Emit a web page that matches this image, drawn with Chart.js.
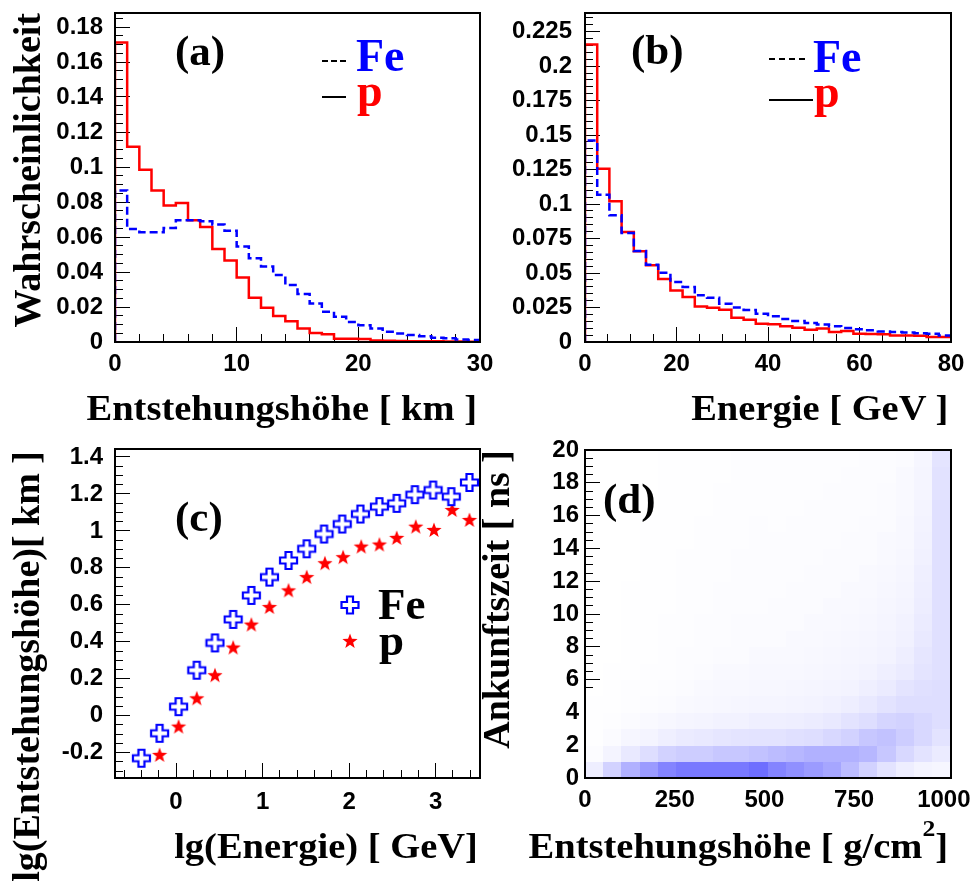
<!DOCTYPE html>
<html lang="de">
<head>
<meta charset="utf-8">
<title>Entstehungshöhe, Energie und Ankunftszeit</title>
<script src="https://cdn.jsdelivr.net/npm/chart.js@4.4.1/dist/chart.umd.min.js"></script>
<style>
html,body{margin:0;padding:0;background:#fff;overflow:hidden;width:972px;height:887px;}
#wrap{position:relative;width:972px;height:887px;overflow:hidden;background:#fff;}
#wrap canvas{position:absolute;}
.t{position:absolute;white-space:nowrap;font-family:"Liberation Serif","Times New Roman",serif;font-weight:bold;line-height:1;color:#000;}
.xt{font-size:36px;transform:scaleX(1.07);transform-origin:right top;}
.yt{font-size:38px;width:600px;text-align:right;transform:rotate(-90deg);transform-origin:left top;}
.pl{font-size:43px;}
.lg{font-size:46px;}
.sup{position:relative;top:-22px;font-size:24px;}
#ov{position:absolute;left:0;top:0;}
</style>
</head>
<body>
<div id="wrap">
<canvas id="chartA" width="500" height="440" style="left:0px;top:0px"></canvas>
<canvas id="chartB" width="486" height="440" style="left:486px;top:0px"></canvas>
<canvas id="chartC" width="500" height="447" style="left:0px;top:440px"></canvas>
<canvas id="chartD" width="486" height="447" style="left:486px;top:440px"></canvas>

<svg id="ov" width="972" height="887" xmlns="http://www.w3.org/2000/svg">
  <line x1="322" y1="61" x2="346" y2="61" stroke="#000" stroke-width="2" stroke-dasharray="6,3"/>
  <line x1="322" y1="97" x2="346" y2="97" stroke="#000" stroke-width="2"/>
  <line x1="769" y1="59" x2="805" y2="59" stroke="#000" stroke-width="2" stroke-dasharray="6,4"/>
  <line x1="769" y1="100" x2="813" y2="100" stroke="#000" stroke-width="2"/>
  <path d="M347,596.5 L353,596.5 L353,602 L358.5,602 L358.5,608 L353,608 L353,613.5 L347,613.5 L347,608 L341.5,608 L341.5,602 L347,602 Z" fill="#fff" stroke="#0000ff" stroke-width="2.2"/>
  <polygon points="350,633.5 351.94,638.83 357.61,639.03 353.14,642.52 354.70,647.97 350,644.8 345.30,647.97 346.86,642.52 342.39,639.03 348.06,638.83" fill="#ff0000"/>
</svg>

<!-- axis titles -->
<div class="t xt" style="right:495px;top:390px;">Entstehungshöhe [ km ]</div>
<div class="t xt" style="right:24px;top:390px;">Energie [ GeV ]</div>
<div class="t xt" style="right:494px;top:828px;">lg(Energie) [ GeV]</div>
<div class="t xt" style="right:24px;top:828px;">Entstehungshöhe [ g/cm<span class="sup">2</span>]</div>
<div class="t yt" style="left:8px;top:613px;">Wahrscheinlichkeit</div>
<div class="t yt" style="left:7px;top:1051px;">lg(Entstehungshöhe)[ km ]</div>
<div class="t yt" style="left:477px;top:1050px;">Ankunftszeit [ ns ]</div>

<!-- panel labels -->
<div class="t pl" style="left:175px;top:29px;">(a)</div>
<div class="t pl" style="left:631px;top:28px;">(b)</div>
<div class="t pl" style="left:175px;top:495px;">(c)</div>
<div class="t pl" style="left:603px;top:477px;">(d)</div>

<!-- legends -->
<div class="t lg" style="left:356px;top:33px;color:#0000ff;">Fe</div>
<div class="t lg" style="left:357px;top:68px;color:#ff0000;">p</div>
<div class="t lg" style="left:813px;top:34px;color:#0000ff;">Fe</div>
<div class="t lg" style="left:814px;top:69px;color:#ff0000;">p</div>
<div class="t" style="left:378px;top:582px;font-size:45px;">Fe</div>
<div class="t" style="left:379px;top:618px;font-size:45px;">p</div>
</div>

<script>
// ---------- Panel (a): production height distribution ----------
const heightEdgesKm = [0,1,2,3,4,5,6,7,8,9,10,11,12,13,14,15,16,17,18,19,20,21,22,23,24,25,26,27,28,29,30];
const heightProbFe = [0.0866,0.0646,0.0627,0.0627,0.0652,0.0696,0.0696,0.069,0.0671,0.0636,
                      0.0546,0.0479,0.0431,0.0383,0.0326,0.0274,0.022,0.0173,0.0144,0.0115,
                      0.0096,0.0077,0.0058,0.0048,0.004,0.0033,0.0025,0.0021,0.0015,0.0012];
const heightProbP  = [0.1712,0.1116,0.0985,0.0866,0.078,0.0795,0.0696,0.0657,0.0531,0.0466,
                      0.0368,0.0253,0.0196,0.0148,0.0119,0.0077,0.0052,0.0044,0.0019,0.0019,
                      0.0017,0.0008,0.0007,0.0006,0.0005,0.0004,0.0004,0.0003,0.0003,0.0002];
const heightTicksKm = [0,10,20,30];
const heightProbTicks = [0,0.02,0.04,0.06,0.08,0.1,0.12,0.14,0.16,0.18];

// ---------- Panel (b): energy distribution ----------
const energyEdgesGeV = [0,2.67,5.33,8,10.67,13.33,16,18.67,21.33,24,26.67,29.33,32,34.67,37.33,
                        40,42.67,45.33,48,50.67,53.33,56,58.67,61.33,64,66.67,69.33,72,74.67,77.33,80];
const energyProbFe = [0.146,0.1068,0.0918,0.079,0.066,0.056,0.0502,0.0435,0.0399,0.0338,
                      0.0321,0.0278,0.0251,0.0232,0.0205,0.0186,0.0167,0.0152,0.0138,0.0126,
                      0.0114,0.0101,0.0092,0.0085,0.0077,0.0072,0.0068,0.0063,0.006,0.0048];
const energyProbP  = [0.2157,0.1256,0.102,0.0797,0.0657,0.0556,0.0457,0.0374,0.0326,0.0258,
                      0.0249,0.0234,0.0176,0.0162,0.0133,0.0128,0.0114,0.0104,0.0089,0.0097,
                      0.0072,0.008,0.006,0.0058,0.0056,0.0048,0.0048,0.0046,0.0036,0.0036];
const energyTicksGeV = [0,20,40,60,80];
const energyProbTicks = [0,0.025,0.05,0.075,0.1,0.125,0.15,0.175,0.2,0.225];

// ---------- Panel (c): lg(height) vs lg(energy) ----------
const lgEnergyFe = [-0.40,-0.19,0.03,0.24,0.45,0.66,0.87,1.08,1.30,1.51,1.71,1.92,2.13,2.35,2.55,2.76,2.97,3.18,3.39];
const lgHeightFe = [-0.23,-0.095,0.049,0.246,0.394,0.521,0.651,0.75,0.84,0.903,0.983,1.037,1.091,1.131,1.149,1.196,1.221,1.185,1.262];
const lgEnergyP  = [-0.19,0.03,0.24,0.45,0.66,0.87,1.08,1.30,1.51,1.72,1.93,2.14,2.35,2.55,2.77,2.98,3.19,3.39];
const lgHeightP  = [-0.212,-0.059,0.094,0.219,0.369,0.493,0.588,0.678,0.75,0.825,0.858,0.915,0.926,0.962,1.023,1.005,1.113,1.059];
const lgEnergyTicks = [0,1,2,3];
const lgHeightTicks = [-0.2,0,0.2,0.4,0.6,0.8,1,1.2,1.4];

// ---------- Panel (d): arrival time vs production depth (hit density per cell) ----------
const depthBinCenters = [25.5,76.5,127.5,178.5,229.5,280.5,331.5,382.5,433.5,484.5,535.5,586.5,637.5,688.5,739.5,790.5,841.5,892.5,943.5,994.5];
const timeBinCenters  = [0.5,1.5,2.5,3.5,4.5,5.5,6.5,7.5,8.5,9.5,10.5,11.5,12.5,13.5,14.5,15.5,16.5,17.5,18.5,19.5];
const hitCounts = [
  [15,40,70,90,110,120,120,120,120,130,110,100,90,80,60,40,25,15,10,8],
  [3,10,20,30,40,45,45,50,50,55,60,65,70,70,70,65,50,35,25,18],
  [1,4,8,10,14,18,20,22,24,25,25,28,30,35,40,50,55,45,35,25],
  [1,2,4,5,7,9,10,12,12,14,14,15,17,20,25,30,38,40,35,30],
  [1,1,2,3,4,5,6,7,8,9,9,10,11,13,15,20,25,30,30,30],
  [0,1,2,2,3,4,5,6,6,7,7,8,9,10,11,14,18,24,28,30],
  [0,1,1,2,2,3,4,5,5,6,6,6,7,8,9,11,14,18,24,28],
  [0,0,1,1,2,3,3,4,4,5,5,5,6,7,8,9,11,15,22,28],
  [0,0,1,1,2,2,3,3,4,4,4,5,5,6,7,8,10,13,20,28],
  [0,0,1,1,2,2,3,3,4,4,4,4,5,5,6,7,9,12,18,28],
  [0,0,1,1,1,2,2,3,3,3,4,4,4,5,5,6,8,10,16,28],
  [0,0,1,1,1,2,2,3,3,3,3,4,4,4,5,5,7,9,15,28],
  [0,0,0,1,1,2,2,2,3,3,3,3,4,4,4,5,6,8,14,28],
  [0,0,0,1,1,2,2,2,3,3,3,3,3,4,4,4,5,7,13,28],
  [0,0,0,1,1,1,2,2,2,3,3,3,3,3,4,4,5,6,12,28],
  [0,0,0,1,1,1,2,2,2,3,2,3,3,3,3,4,4,6,11,28],
  [0,0,0,0,1,1,1,2,2,2,2,2,3,3,3,3,4,5,10,28],
  [0,0,0,0,1,1,1,2,2,2,2,2,2,3,3,3,4,5,9,26],
  [0,0,0,0,1,1,1,1,2,2,2,2,2,2,3,3,3,5,9,26],
  [0,0,0,0,1,1,1,1,2,2,2,2,2,2,2,3,3,4,8,24]
];
const depthTicks = [0,250,500,750,1000];
const timeTicks = [0,2,4,6,8,10,12,14,16,18,20];

// ---------- helpers ----------
Chart.defaults.font.family = "'Liberation Sans', Arial, sans-serif";
const tickFont = {family: "'Liberation Sans', Arial, sans-serif", weight: 'bold', size: 24};
const fmt = v => String(Math.round(v * 1000) / 1000);

function histPoints(edges, vals) {
  const pts = [{x: edges[0], y: 0}];
  vals.forEach((v, i) => pts.push({x: edges[i], y: v}));
  pts.push({x: edges[vals.length], y: vals[vals.length - 1]});
  return pts;
}
// unlabeled minor tick positions on a regular step
function minorTicks(min, max, step) {
  const out = [];
  for (let k = Math.ceil(min / step - 1e-9); k * step <= max + 1e-9; k++) {
    out.push({value: Math.round(k * step * 1e6) / 1e6});
  }
  return out;
}

function axes(o) {
  const zeroPad = s => { s.paddingLeft = 0; s.paddingRight = 0; s.paddingTop = 0; s.paddingBottom = 0; };
  return {
    x: {type: 'linear', axis: 'x', position: 'bottom', min: o.xmin, max: o.xmax, z: 1,
        afterBuildTicks: s => { s.ticks = o.xTicks.map(v => ({value: v})); },
        afterFit: s => { s.height = o.xH; zeroPad(s); },
        border: {display: false},
        grid: {display: true, drawOnChartArea: false, drawTicks: true, tickLength: -15, tickColor: '#000', tickWidth: 1},
        ticks: {autoSkip: false, maxRotation: 0, minRotation: 0,
                padding: o.xPad, color: '#000', font: tickFont, callback: fmt}},
    xMinor: {type: 'linear', axis: 'x', position: {y: o.ymin}, min: o.xmin, max: o.xmax, z: 1,
        afterBuildTicks: s => { s.ticks = minorTicks(o.xmin, o.xmax, o.xMinor); },
        afterFit: zeroPad,
        border: {display: false},
        grid: {display: true, drawOnChartArea: false, drawTicks: true, tickLength: -8, tickColor: '#000', tickWidth: 1},
        ticks: {display: false, autoSkip: false}},
    y: {type: 'linear', axis: 'y', position: 'left', min: o.ymin, max: o.ymax, z: 1,
        afterBuildTicks: s => { s.ticks = o.yTicks.map(v => ({value: v})); },
        afterFit: s => { s.width = o.yW; zeroPad(s); },
        border: {display: false},
        grid: {display: true, drawOnChartArea: false, drawTicks: true, tickLength: -15, tickColor: '#000', tickWidth: 1},
        ticks: {autoSkip: false, padding: o.yPad, color: '#000', font: tickFont, callback: fmt}},
    yMinor: {type: 'linear', axis: 'y', position: {x: o.xmin}, min: o.ymin, max: o.ymax, z: 1,
        afterBuildTicks: s => { s.ticks = minorTicks(o.ymin, o.ymax, o.yMinor); },
        afterFit: zeroPad,
        border: {display: false},
        grid: {display: true, drawOnChartArea: false, drawTicks: true, tickLength: -8, tickColor: '#000', tickWidth: 1},
        ticks: {display: false, autoSkip: false}}
  };
}

function baseOptions(pad, scales) {
  return {
    responsive: false, animation: false, events: [],
    layout: {padding: pad},
    plugins: {legend: {display: false}, tooltip: {enabled: false}},
    scales
  };
}

const framePlugin = {
  id: 'frame',
  afterDraw(chart) {
    const {ctx, chartArea: a} = chart;
    ctx.save();
    ctx.strokeStyle = '#000';
    ctx.lineWidth = 2;
    ctx.strokeRect(a.left, a.top, a.right - a.left, a.bottom - a.top);
    ctx.restore();
  }
};

function makeCross() {
  const c = document.createElement('canvas'); c.width = 21; c.height = 21;
  const g = c.getContext('2d'); g.translate(10.5, 10.5);
  const a = 3, b = 8.5;
  g.beginPath();
  g.moveTo(-a,-b); g.lineTo(a,-b); g.lineTo(a,-a); g.lineTo(b,-a); g.lineTo(b,a); g.lineTo(a,a);
  g.lineTo(a,b); g.lineTo(-a,b); g.lineTo(-a,a); g.lineTo(-b,a); g.lineTo(-b,-a); g.lineTo(-a,-a);
  g.closePath();
  g.fillStyle = '#fff'; g.fill();
  g.strokeStyle = '#0000ff'; g.lineWidth = 2.2; g.stroke();
  return c;
}
function makeStar() {
  const c = document.createElement('canvas'); c.width = 18; c.height = 18;
  const g = c.getContext('2d'); g.translate(9, 9.5);
  g.beginPath();
  for (let k = 0; k < 10; k++) {
    const r = k % 2 ? 3.3 : 8;
    const t = -Math.PI / 2 + k * Math.PI / 5;
    g.lineTo(r * Math.cos(t), r * Math.sin(t));
  }
  g.closePath(); g.fillStyle = '#ff0000'; g.fill();
  return c;
}
const cellCache = {};
function cellImage(n) {
  if (cellCache[n]) return cellCache[n];
  const c = document.createElement('canvas'); c.width = 19; c.height = 17;
  const g = c.getContext('2d');
  const v = Math.round(255 - 195 * Math.min(1, n / 175));
  g.fillStyle = 'rgb(' + v + ',' + v + ',255)';
  g.fillRect(0, 0, 19, 17);
  cellCache[n] = c;
  return c;
}

// ---------- Chart (a) ----------
new Chart(document.getElementById('chartA'), {
  type: 'line',
  data: {datasets: [
    {label: 'Fe', data: histPoints(heightEdgesKm, heightProbFe), xAxisID: 'x', yAxisID: 'y',
     borderColor: '#0000ff', borderWidth: 2.5, borderDash: [8, 4], stepped: true, pointRadius: 0, fill: false},
    {label: 'p', data: histPoints(heightEdgesKm, heightProbP), xAxisID: 'x', yAxisID: 'y',
     borderColor: '#ff0000', borderWidth: 2.5, stepped: true, pointRadius: 0, fill: false}
  ]},
  options: baseOptions({left: 0, right: 20, top: 13, bottom: 0},
    axes({xmin: 0, xmax: 30, xTicks: heightTicksKm, xMinor: 2, ymin: 0, ymax: 0.188, yTicks: heightProbTicks, yMinor: 0.005,
          yW: 115, xH: 98, yPad: 27, xPad: 23})),
  plugins: [framePlugin]
});

// ---------- Chart (b) ----------
new Chart(document.getElementById('chartB'), {
  type: 'line',
  data: {datasets: [
    {label: 'Fe', data: histPoints(energyEdgesGeV, energyProbFe), xAxisID: 'x', yAxisID: 'y',
     borderColor: '#0000ff', borderWidth: 2.5, borderDash: [8, 4], stepped: true, pointRadius: 0, fill: false},
    {label: 'p', data: histPoints(energyEdgesGeV, energyProbP), xAxisID: 'x', yAxisID: 'y',
     borderColor: '#ff0000', borderWidth: 2.5, stepped: true, pointRadius: 0, fill: false}
  ]},
  options: baseOptions({left: 0, right: 21, top: 13, bottom: 0},
    axes({xmin: 0, xmax: 80, xTicks: energyTicksGeV, xMinor: 5, ymin: 0, ymax: 0.2385, yTicks: energyProbTicks, yMinor: 0.005,
          yW: 99, xH: 98, yPad: 28, xPad: 23})),
  plugins: [framePlugin]
});

// ---------- Chart (c) ----------
const crossImg = makeCross();
const starImg = makeStar();
new Chart(document.getElementById('chartC'), {
  type: 'scatter',
  data: {datasets: [
    {label: 'Fe', data: lgEnergyFe.map((x, i) => ({x: x, y: lgHeightFe[i]})), xAxisID: 'x', yAxisID: 'y',
     pointStyle: crossImg, pointRadius: 8},
    {label: 'p', data: lgEnergyP.map((x, i) => ({x: x, y: lgHeightP[i]})), xAxisID: 'x', yAxisID: 'y',
     pointStyle: starImg, pointRadius: 8}
  ]},
  options: baseOptions({left: 0, right: 20, top: 8, bottom: 0},
    axes({xmin: -0.705, xmax: 3.512, xTicks: lgEnergyTicks, xMinor: 0.2, ymin: -0.337, ymax: 1.443, yTicks: lgHeightTicks, yMinor: 0.05,
          yW: 115, xH: 109, yPad: 27, xPad: 25})),
  plugins: [framePlugin]
});

// ---------- Chart (d) ----------
const cellPoints = [];
timeBinCenters.forEach((t, r) => {
  depthBinCenters.forEach((d, c) => {
    const n = hitCounts[r][c];
    if (n > 0) cellPoints.push({x: d, y: t, n: n});
  });
});
new Chart(document.getElementById('chartD'), {
  type: 'scatter',
  data: {datasets: [
    {label: 'Treffer', data: cellPoints, xAxisID: 'x', yAxisID: 'y',
     pointStyle: ctx => cellImage(ctx.raw ? ctx.raw.n : 1), pointRadius: 9}
  ]},
  options: baseOptions({left: 0, right: 21, top: 8, bottom: 0},
    axes({xmin: 0, xmax: 1020, xTicks: depthTicks, xMinor: 50, ymin: 0, ymax: 20, yTicks: timeTicks, yMinor: 0.5,
          yW: 99, xH: 109, yPad: 21, xPad: 23})),
  plugins: [framePlugin]
});
</script>
</body>
</html>
